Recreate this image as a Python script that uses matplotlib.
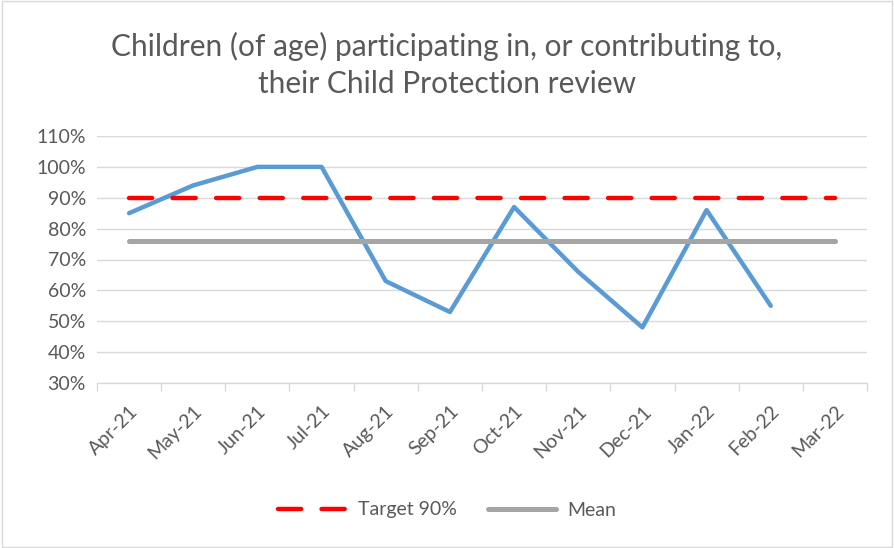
import matplotlib.pyplot as plt
from matplotlib.ticker import PercentFormatter

months = ["Apr-21", "May-21", "Jun-21", "Jul-21", "Aug-21", "Sep-21",
          "Oct-21", "Nov-21", "Dec-21", "Jan-22", "Feb-22", "Mar-22"]
actual = [85, 94, 100, 100, 63, 53, 87, 66, 48, 86, 55]
target = [90] * 12
mean = [76] * 12

plt.rcParams['font.family'] = ['Lato', 'DejaVu Sans']
TXT = "#595959"

fig = plt.figure(figsize=(8.94, 5.48), dpi=100)
ax = fig.add_axes([97 / 894, 1 - 383 / 548, (867 - 97) / 894, (383 - 136) / 548])

x = range(len(months))
ax.plot(range(len(actual)), actual, color="#5b9bd5", lw=3.2, solid_capstyle="round",
        solid_joinstyle="round")
ax.plot(x, target, color="#ff0000", lw=3.2, ls=(0, (5.2, 4.6)), dash_capstyle="round",
        label="Target 90%")
ax.plot(x, mean, color="#a5a5a5", lw=3.6, solid_capstyle="round", label="Mean")

ax.set_xlim(-0.5, len(months) - 0.5)
ax.set_ylim(30, 110)
ax.set_yticks(range(30, 111, 10))
ax.yaxis.set_major_formatter(PercentFormatter(decimals=0))
ax.grid(axis="y", color="#d9d9d9", lw=1)
ax.set_axisbelow(True)

for s in ["top", "right", "left"]:
    ax.spines[s].set_visible(False)
ax.spines["bottom"].set_color("#d9d9d9")
ax.spines["bottom"].set_linewidth(1)

ax.set_xticks([i - 0.5 for i in range(len(months) + 1)], minor=False)
ax.set_xticklabels([])
ax.tick_params(axis="x", length=6, color="#d9d9d9", width=1)
ax.set_xticks(list(x), minor=True)
ax.set_xticklabels(months, minor=True, rotation=45, ha="right", rotation_mode="anchor")
ax.tick_params(axis="x", which="minor", length=0, pad=14, labelsize=14, labelcolor=TXT)
ax.tick_params(axis="y", length=0, labelsize=14, labelcolor=TXT, pad=8)

fig.text(0.5, 1 - 65 / 548, "Children (of age) participating in, or contributing to,\ntheir Child Protection review",
         ha="center", va="center", fontsize=21.5, color=TXT, linespacing=1.4)

fig.legend(loc="center", bbox_to_anchor=(0.5, 1 - 510 / 548), ncol=2, frameon=False,
           fontsize=14, labelcolor=TXT, handlelength=3.5, columnspacing=1.6,
           handletextpad=0.6)

fig.patches.append(plt.Rectangle((0.002, 0.002), 0.996, 0.996, transform=fig.transFigure,
                                 fill=False, edgecolor="#d9d9d9", lw=1))

fig.savefig("out.png", dpi=100)
